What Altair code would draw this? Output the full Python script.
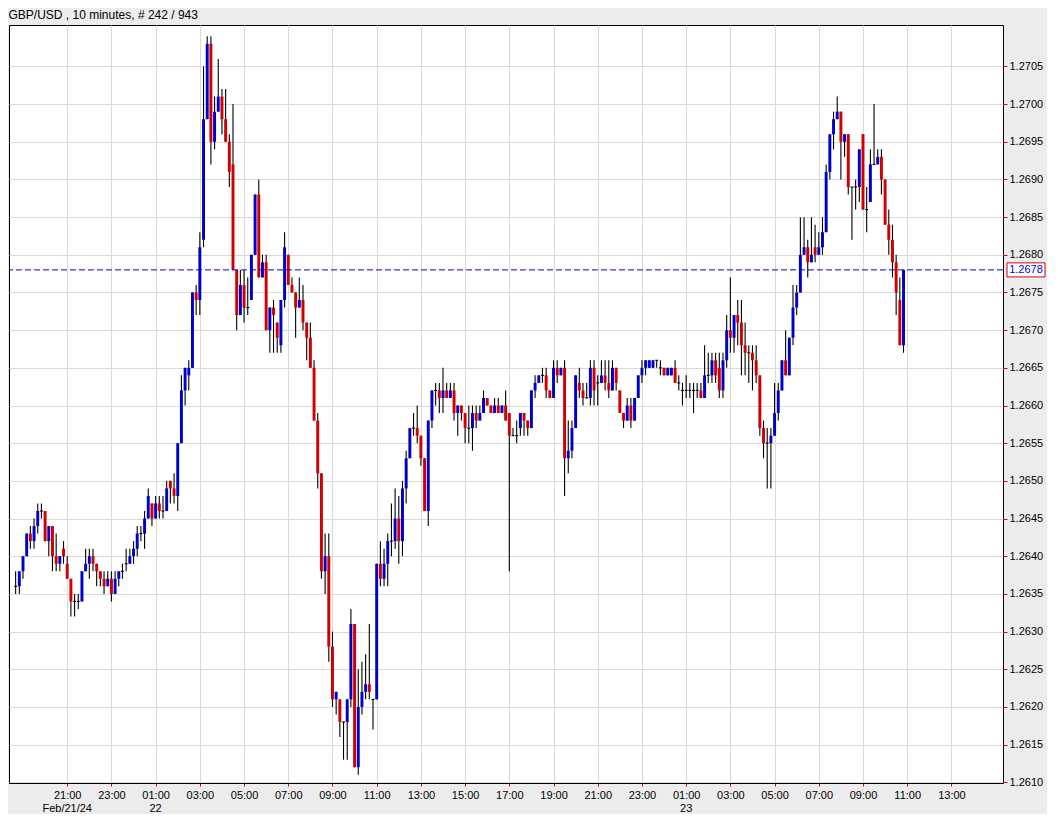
import json
import altair as alt
import pandas as pd

# ---------------- data (pips above 1.2600) ----------------
BASE = 1.2600
PIP = 0.0001

open_pips = [
    36, 36, 38, 40, 43, 42, 44, 46, 46, 42,
    44, 40, 39, 41, 39, 37, 34, 34, 34, 38,
    39, 40, 39, 38, 37, 36, 37, 35, 37, 38,
    39, 39, 40, 41, 43, 43, 45, 47, 45, 47,
    46, 46, 50, 49, 48, 55, 62, 64, 65, 75,
    74, 82, 98, 108, 95, 99, 101, 98, 95, 92,
    78, 72, 76, 73, 74, 80, 88, 77, 79, 70,
    73, 71, 68, 74, 80, 76, 75, 73, 74, 71,
    69, 65, 58, 51, 38, 40, 28, 21, 21, 18,
    18, 21, 31, 12, 20, 22, 23, 21, 21, 39,
    37, 39, 42, 42, 45, 42, 49, 53, 57, 57,
    56, 53, 46, 58, 62, 62, 61, 62, 61, 62,
    59, 60, 59, 57, 57, 59, 58, 59, 61, 60,
    59, 60, 59, 60, 59, 56, 56, 57, 59, 58,
    57, 62, 63, 64, 64, 62, 61, 65, 64, 65,
    53, 54, 57, 63, 62, 61, 61, 65, 63, 63,
    64, 63, 62, 65, 62, 59, 58, 60, 58, 61,
    64, 65, 65, 65, 66, 65, 65, 64, 64, 65,
    63, 62, 62, 62, 62, 62, 62, 61, 64, 64,
    66, 65, 62, 66, 70, 69, 72, 71, 68, 67,
    67, 66, 64, 57, 55, 55, 56, 59, 62, 66,
    64, 69, 73, 75, 80, 81, 79, 81, 80, 81,
    83, 91, 96, 98, 99, 95, 96, 89, 89, 89,
    96, 86, 87, 92, 92, 93, 90, 84, 82, 79,
    74, 68,
]
high_pips = [
    38, 38, 40, 43, 44, 45, 47, 47, 46, 44,
    44, 43, 40, 42, 40, 37, 35, 35, 38, 41,
    41, 41, 39, 38, 38, 38, 38, 38, 38, 39,
    41, 41, 42, 44, 44, 46, 49, 47, 48, 48,
    48, 50, 50, 51, 55, 64, 65, 66, 75, 76,
    83, 105, 109, 109, 101, 106, 102, 102, 96, 100,
    78, 78, 78, 77, 80, 88, 90, 80, 80, 73,
    74, 71, 74, 83, 80, 77, 75, 77, 76, 71,
    71, 66, 59, 51, 43, 43, 30, 22, 21, 18,
    21, 33, 31, 25, 26, 27, 31, 21, 39, 42,
    41, 43, 47, 49, 48, 50, 54, 57, 59, 60,
    56, 53, 58, 62, 63, 63, 65, 63, 63, 63,
    60, 60, 59, 60, 60, 60, 60, 62, 61, 60,
    61, 61, 60, 62, 59, 57, 58, 59, 59, 58,
    62, 64, 64, 65, 65, 62, 66, 66, 65, 66,
    58, 58, 64, 65, 63, 63, 66, 66, 64, 66,
    66, 66, 66, 65, 62, 59, 61, 61, 61, 64,
    66, 66, 66, 66, 66, 66, 65, 65, 65, 66,
    64, 63, 64, 63, 63, 63, 63, 68, 67, 67,
    67, 67, 67, 72, 77, 72, 74, 74, 71, 68,
    68, 68, 64, 58, 57, 57, 63, 63, 66, 70,
    69, 76, 76, 85, 85, 82, 85, 84, 83, 85,
    92, 96, 99, 101, 99, 96, 96, 89, 90, 94,
    96, 89, 94, 100, 94, 94, 90, 86, 84, 80,
    77, 78,
]
low_pips = [
    35, 35, 37, 40, 41, 41, 43, 45, 42, 40,
    38, 38, 38, 39, 37, 32, 32, 33, 34, 38,
    37, 38, 36, 36, 35, 36, 34, 35, 36, 37,
    38, 39, 39, 40, 42, 41, 45, 44, 45, 45,
    45, 46, 47, 47, 46, 55, 60, 62, 65, 72,
    72, 81, 98, 92, 94, 99, 96, 95, 89, 78,
    70, 72, 71, 72, 74, 80, 77, 77, 70, 67,
    67, 67, 67, 73, 76, 75, 69, 73, 70, 66,
    65, 58, 49, 37, 35, 26, 20, 19, 16, 13,
    13, 20, 12, 11, 19, 21, 21, 17, 21, 36,
    36, 36, 40, 41, 39, 40, 47, 53, 56, 55,
    52, 46, 44, 57, 60, 59, 59, 61, 61, 58,
    56, 58, 55, 55, 54, 57, 58, 59, 60, 59,
    59, 59, 59, 58, 38, 56, 55, 56, 56, 56,
    57, 61, 63, 63, 61, 61, 61, 63, 64, 48,
    51, 53, 57, 61, 60, 61, 60, 60, 60, 63,
    62, 61, 62, 62, 59, 57, 58, 57, 58, 61,
    63, 64, 65, 65, 65, 64, 64, 64, 64, 63,
    62, 60, 61, 61, 59, 61, 61, 61, 63, 63,
    63, 61, 61, 65, 67, 67, 68, 64, 64, 63,
    62, 63, 56, 53, 49, 49, 56, 58, 62, 64,
    64, 68, 72, 75, 80, 77, 79, 79, 80, 80,
    83, 90, 94, 98, 90, 93, 88, 82, 86, 87,
    86, 83, 87, 92, 92, 88, 84, 80, 77, 72,
    68, 67,
]
close_pips = [
    36, 38, 40, 43, 42, 44, 46, 46, 42, 44,
    40, 39, 40, 40, 37, 34, 34, 34, 38, 39,
    40, 39, 38, 37, 36, 37, 35, 37, 38, 38,
    39, 40, 41, 43, 43, 45, 48, 45, 47, 46,
    46, 49, 49, 48, 55, 62, 65, 65, 75, 74,
    81, 98, 108, 95, 99, 101, 98, 95, 91, 78,
    72, 76, 73, 73, 80, 88, 77, 79, 70, 73,
    72, 69, 74, 81, 76, 75, 73, 74, 71, 69,
    65, 58, 51, 38, 40, 28, 21, 22, 18, 18,
    21, 31, 12, 20, 22, 23, 22, 21, 39, 37,
    39, 42, 42, 45, 42, 49, 53, 57, 57, 56,
    53, 46, 58, 62, 62, 61, 62, 61, 62, 59,
    60, 59, 57, 57, 59, 58, 59, 61, 60, 59,
    60, 59, 60, 58, 56, 56, 56, 59, 58, 57,
    62, 63, 64, 64, 62, 61, 65, 64, 65, 53,
    54, 57, 64, 62, 61, 61, 65, 62, 63, 64,
    63, 62, 65, 63, 59, 58, 60, 58, 61, 64,
    65, 66, 66, 66, 66, 65, 64, 65, 65, 63,
    63, 62, 62, 62, 62, 62, 61, 64, 64, 66,
    64, 62, 66, 70, 69, 72, 71, 68, 67, 67,
    66, 64, 57, 55, 55, 56, 59, 62, 66, 64,
    69, 73, 75, 80, 81, 79, 80, 80, 81, 83,
    91, 96, 98, 99, 95, 96, 89, 89, 89, 94,
    86, 86, 92, 92, 93, 90, 84, 82, 79, 75,
    68, 78,
]

# x axis: bar index 0 = Feb 21 18:40, one bar = 10 minutes
time_tick_pos = [14, 26, 38, 50, 62, 74, 86, 98, 110, 122, 134,
                 146, 158, 170, 182, 194, 206, 218, 230, 242, 254]
time_tick_labels = ["21:00", "23:00", "01:00", "03:00", "05:00", "07:00", "09:00",
                    "11:00", "13:00", "15:00", "17:00", "19:00", "21:00", "23:00",
                    "01:00", "03:00", "05:00", "07:00", "09:00", "11:00", "13:00"]
date_tick_pos = [14, 38, 182]
date_tick_labels = ["Feb/21/24", "22", "23"]

price_ticks = [1.2610, 1.2615, 1.2620, 1.2625, 1.2630, 1.2635, 1.2640, 1.2645,
               1.2650, 1.2655, 1.2660, 1.2665, 1.2670, 1.2675, 1.2680, 1.2685,
               1.2690, 1.2695, 1.2700, 1.2705]
last_price = 1.2678
last_price_label = "1.2678"
title_text = "GBP/USD , 10 minutes, # 242 / 943"

n = len(open_pips)
assert n == len(high_pips) == len(low_pips) == len(close_pips) == 242

df = pd.DataFrame({
    "i": list(range(n)),
    "o": [round(BASE + p * PIP, 4) for p in open_pips],
    "h": [round(BASE + p * PIP, 4) for p in high_pips],
    "l": [round(BASE + p * PIP, 4) for p in low_pips],
    "c": [round(BASE + p * PIP, 4) for p in close_pips],
})

# ---------------- layout / style ----------------
W, H = 994, 758
FONT = "Liberation Sans"
UP, DOWN = "#0000cc", "#d00000"
GRID = "#d9d9d9"
TICK = "#e00000"

x_scale = alt.Scale(domain=[-1.8, 268], nice=False, zero=False)
y_scale = alt.Scale(domain=[1.26099, 1.27105], nice=False, zero=False)

label_expr = json.dumps(time_tick_labels).replace('"', "'") + "[round((datum.value - 14) / 12)]"

x_axis = alt.Axis(values=time_tick_pos, labelExpr=label_expr, title=None, grid=True,
                  gridColor=GRID, gridWidth=1, tickColor=TICK, tickSize=3, domain=True,
                  domainColor="black", labelFont=FONT, labelFontSize=11, labelColor="black",
                  labelPadding=3, labelOverlap=False, labelFlush=False)
y_axis = alt.Axis(orient="right", values=price_ticks, format=".4f", title=None, grid=True,
                  gridColor=GRID, gridWidth=1, tickColor=TICK, tickSize=4, domain=False,
                  labelFont=FONT, labelFontSize=11, labelColor="black", labelPadding=2,
                  labelOverlap=False, labelFlush=False)

base = alt.Chart(df).transform_calculate(
    xl="datum.i - 0.4",
    xr="datum.i + 0.4",
    dir="datum.c > datum.o ? 'up' : (datum.c < datum.o ? 'down' : 'flat')",
)

wicks = base.mark_rule(color="black", strokeWidth=1.1).encode(
    x=alt.X("i:Q", scale=x_scale, axis=x_axis),
    y=alt.Y("l:Q", scale=y_scale, axis=y_axis),
    y2="h:Q",
)

bodies = base.transform_filter("datum.dir != 'flat'").mark_bar(strokeWidth=0).encode(
    x=alt.X("xl:Q", scale=x_scale, axis=x_axis),
    x2="xr:Q",
    y=alt.Y("o:Q", scale=y_scale, axis=y_axis),
    y2="c:Q",
    color=alt.Color("dir:N", scale=alt.Scale(domain=["up", "down"], range=[UP, DOWN]),
                    legend=None),
)

dojis = base.transform_filter("datum.dir == 'flat'").mark_rule(color="black", strokeWidth=1.1).encode(
    x=alt.X("xl:Q", scale=x_scale, axis=x_axis),
    x2="xr:Q",
    y=alt.Y("o:Q", scale=y_scale, axis=y_axis),
)

last_df = pd.DataFrame({"p": [last_price], "label": [last_price_label]})
last_line = alt.Chart(last_df).mark_rule(color="#0000d0", strokeDash=[6, 3], strokeWidth=1).encode(
    y=alt.Y("p:Q", scale=y_scale, axis=y_axis),
)

box_shape = "M-1,-0.37 L1,-0.37 L1,0.37 L-1,0.37 Z"
last_box = alt.Chart(last_df).mark_point(
    shape=box_shape, size=38 * 38, filled=True, fill="white", stroke="#e00000",
    strokeWidth=1, opacity=1, fillOpacity=1, strokeOpacity=1,
).encode(
    x=alt.value(W + 23),
    y=alt.Y("p:Q", scale=y_scale, axis=y_axis),
)
last_text = alt.Chart(last_df).mark_text(
    color="#0000ee", font=FONT, fontSize=11, align="center", baseline="middle",
).encode(
    x=alt.value(W + 23),
    y=alt.Y("p:Q", scale=y_scale, axis=y_axis),
    text="label:N",
)

date_df = pd.DataFrame({"i": date_tick_pos, "lab": date_tick_labels})
date_text = alt.Chart(date_df).mark_text(
    color="black", font=FONT, fontSize=11, align="center", baseline="middle",
).encode(
    x=alt.X("i:Q", scale=x_scale, axis=x_axis),
    y=alt.value(H + 26),
    text="lab:N",
)

chart = alt.layer(
    wicks, bodies, dojis, last_line, last_box, last_text, date_text
).properties(
    width=W,
    height=H,
    title=alt.TitleParams(title_text, anchor="start", fontSize=12, font=FONT,
                          fontWeight="normal", color="black", offset=3),
    background="#ececec",
    padding={"left": 0, "top": 1, "right": 0, "bottom": 0},
).configure_view(
    fill="white", stroke="black", strokeWidth=1,
)

chart.save("out.html", embed_options={"renderer": "svg", "actions": False})
